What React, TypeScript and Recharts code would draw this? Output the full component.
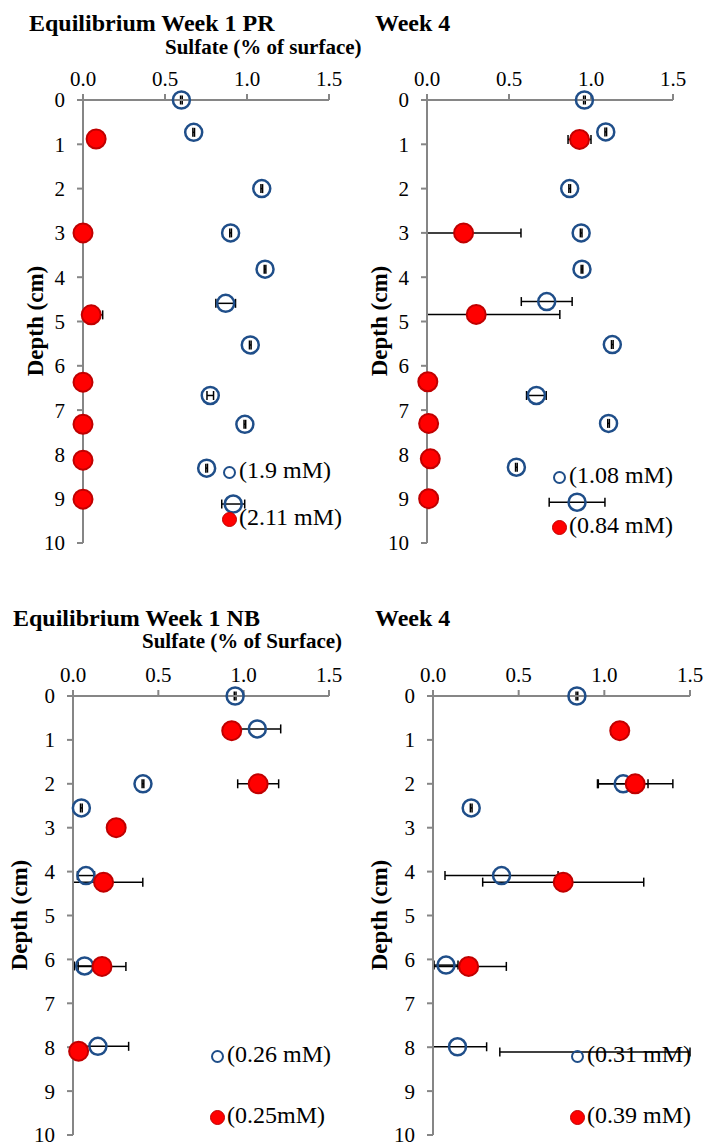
import { ScatterChart, Scatter, XAxis, YAxis, ErrorBar } from 'recharts';

const FONT = '"Liberation Serif", "Times New Roman", serif';
const NAVY = '#1F4E89';
const RED = '#FF0000';
const DARK_RED = '#C00000';
const AXIS = '#868686';

const depthTicks = [0, 1, 2, 3, 4, 5, 6, 7, 8, 9, 10];
const sulfateTicks = [0, 0.5, 1, 1.5];
const X_MAX = 1.5;

// Equilibrium Week 1 PR
const prW1OpenDepth = [0, 0.73, 2.0, 3.0, 3.82, 4.59, 5.53, 6.67, 7.32, 8.31, 9.12];
const prW1OpenValue = [0.6, 0.675, 1.09, 0.9, 1.11, 0.87, 1.02, 0.776, 0.987, 0.754, 0.916];
const prW1OpenErr = [0.005, 0.005, 0.005, 0.005, 0.005, 0.06, 0.005, 0.02, 0.005, 0.005, 0.07];
const prW1RedDepth = [0.88, 3.0, 4.85, 6.37, 7.32, 8.13, 9.01];
const prW1RedValue = [0.08, 0.0, 0.05, 0.0, 0.0, 0.0, 0.0];
const prW1RedErr = [0, 0, 0.07, 0, 0, 0, 0];

// PR Week 4
const prW4OpenDepth = [0, 0.72, 2.0, 3.0, 3.82, 4.55, 5.52, 6.67, 7.3, 8.29, 9.08];
const prW4OpenValue = [0.96, 1.09, 0.87, 0.94, 0.945, 0.73, 1.13, 0.667, 1.107, 0.545, 0.915];
const prW4OpenErr = [0.005, 0.005, 0.005, 0.005, 0.005, 0.155, 0.005, 0.06, 0.005, 0.005, 0.17];
const prW4RedDepth = [0.89, 3.0, 4.84, 6.36, 7.3, 8.1, 9.0];
const prW4RedValue = [0.93, 0.223, 0.3, 0.005, 0.01, 0.02, 0.01];
const prW4RedErr = [0.07, 0.35, 0.51, 0, 0, 0, 0];

// Equilibrium Week 1 NB
const nbW1OpenDepth = [0, 0.75, 2.0, 2.55, 4.09, 6.15, 7.98];
const nbW1OpenValue = [0.95, 1.08, 0.41, 0.049, 0.076, 0.068, 0.146];
const nbW1OpenErr = [0.005, 0.137, 0.005, 0.005, 0.05, 0.06, 0.18];
const nbW1RedDepth = [0.79, 2.0, 3.0, 4.24, 6.16, 8.09];
const nbW1RedValue = [0.93, 1.085, 0.253, 0.179, 0.17, 0.033];
const nbW1RedErr = [0, 0.12, 0, 0.23, 0.14, 0];

// NB Week 4 (last red point lies past 1.5, only its error bar shows)
const nbW4OpenDepth = [0, 2.0, 2.55, 4.09, 6.13, 7.99];
const nbW4OpenValue = [0.84, 1.11, 0.223, 0.4, 0.076, 0.143];
const nbW4OpenErr = [0.005, 0.145, 0.005, 0.33, 0.07, 0.17];
const nbW4RedDepth = [0.79, 2.0, 4.24, 6.16, 8.11];
const nbW4RedValue = [1.09, 1.18, 0.76, 0.208, 1.62];
const nbW4RedErr = [0, 0.22, 0.47, 0.22, 1.23];

// error bars are cut at the axis range, like the plot area does it
const toPoints = (depths: number[], values: number[], errs: number[]) =>
  depths.map((d, i) => ({
    depth: d,
    x: values[i],
    errX: [Math.min(errs[i], values[i]), Math.min(errs[i], X_MAX - values[i])],
  }));

const OpenDot = (p: any) => (
  <circle cx={p.cx} cy={p.cy} r={8.5} fill="none" stroke={NAVY} strokeWidth={2.5} />
);
const RedDot = (p: any) => (
  <circle cx={p.cx} cy={p.cy} r={9.5} fill={RED} stroke={DARK_RED} strokeWidth={2} />
);

const tickStyle = { fill: '#000', fontSize: 21, fontFamily: FONT };

function Panel({ left, top, width, height, margin, open, red, clipX = false }: any) {
  return (
    <div style={{ position: 'absolute', left, top }}>
      <ScatterChart width={width} height={height} margin={margin}>
        <XAxis
          type="number"
          dataKey="x"
          orientation="top"
          domain={[0, X_MAX]}
          ticks={sulfateTicks}
          interval={0}
          tickFormatter={(v: number) => v.toFixed(1)}
          allowDataOverflow={clipX}
          height={40}
          axisLine={{ stroke: AXIS, strokeWidth: 2 }}
          tickLine={{ stroke: AXIS, strokeWidth: 2 }}
          tickSize={6}
          tickMargin={8}
          tick={tickStyle}
        />
        <YAxis
          type="number"
          dataKey="depth"
          reversed
          domain={[0, 10]}
          ticks={depthTicks}
          interval={0}
          width={50}
          axisLine={{ stroke: AXIS, strokeWidth: 2 }}
          tickLine={{ stroke: AXIS, strokeWidth: 2 }}
          tickSize={6}
          tickMargin={12}
          tick={tickStyle}
        />
        <Scatter data={open} shape={OpenDot} isAnimationActive={false}>
          <ErrorBar dataKey="errX" direction="x" width={4.5} stroke="#000" strokeWidth={1.5} isAnimationActive={false} />
        </Scatter>
        <Scatter data={red} shape={RedDot} isAnimationActive={false}>
          <ErrorBar dataKey="errX" direction="x" width={4.5} stroke="#000" strokeWidth={1.5} isAnimationActive={false} />
        </Scatter>
      </ScatterChart>
    </div>
  );
}

function Label({ x, y, size, bold = false, children }: any) {
  return (
    <div
      style={{
        position: 'absolute',
        left: x,
        top: y,
        fontSize: size,
        fontWeight: bold ? 700 : 400,
        lineHeight: 1,
        fontFamily: FONT,
        whiteSpace: 'nowrap',
        color: '#000',
      }}
    >
      {children}
    </div>
  );
}

function DepthLabel({ cx, cy }: any) {
  return (
    <div
      style={{
        position: 'absolute',
        left: cx,
        top: cy,
        transform: 'translate(-50%, -50%) rotate(-90deg)',
        fontSize: 23,
        fontWeight: 700,
        fontFamily: FONT,
        lineHeight: 1,
        whiteSpace: 'nowrap',
      }}
    >
      Depth (cm)
    </div>
  );
}

function LegendItem({ x, y, filled = false, text }: any) {
  const size = filled ? 15 : 13;
  return (
    <>
      <div
        style={{
          position: 'absolute',
          left: x - size / 2,
          top: y - size / 2,
          width: size,
          height: size,
          boxSizing: 'border-box',
          borderRadius: '50%',
          background: filled ? RED : 'transparent',
          border: filled ? `1.5px solid ${DARK_RED}` : `2.3px solid ${NAVY}`,
        }}
      />
      <Label x={x + 10} y={y - 14} size={24}>
        {text}
      </Label>
    </>
  );
}

export default function App() {
  return (
    <div style={{ position: 'absolute', left: 0, top: 0, width: 707, height: 1146, background: '#fff' }}>
      <Panel
        left={0}
        top={0}
        width={355}
        height={570}
        margin={{ top: 60, right: 26, bottom: 27, left: 33 }}
        open={toPoints(prW1OpenDepth, prW1OpenValue, prW1OpenErr)}
        red={toPoints(prW1RedDepth, prW1RedValue, prW1RedErr)}
      />
      <Panel
        left={353}
        top={0}
        width={354}
        height={570}
        margin={{ top: 60, right: 34, bottom: 27, left: 24 }}
        open={toPoints(prW4OpenDepth, prW4OpenValue, prW4OpenErr)}
        red={toPoints(prW4RedDepth, prW4RedValue, prW4RedErr)}
      />
      <Panel
        left={0}
        top={600}
        width={355}
        height={546}
        margin={{ top: 56, right: 26, bottom: 11, left: 23 }}
        open={toPoints(nbW1OpenDepth, nbW1OpenValue, nbW1OpenErr)}
        red={toPoints(nbW1RedDepth, nbW1RedValue, nbW1RedErr)}
      />
      <Panel
        left={353}
        top={600}
        width={354}
        height={546}
        margin={{ top: 56, right: 17, bottom: 11, left: 30 }}
        open={toPoints(nbW4OpenDepth, nbW4OpenValue, nbW4OpenErr)}
        red={toPoints(nbW4RedDepth, nbW4RedValue, nbW4RedErr)}
        clipX
      />

      <Label x={29} y={11} size={24} bold>Equilibrium Week 1 PR</Label>
      <Label x={165} y={37} size={21} bold>Sulfate (% of surface)</Label>
      <Label x={375} y={11} size={24} bold>Week 4</Label>
      <Label x={13} y={606} size={24} bold>Equilibrium Week 1 NB</Label>
      <Label x={142} y={631} size={21} bold>Sulfate (% of Surface)</Label>
      <Label x={375} y={606} size={24} bold>Week 4</Label>

      <DepthLabel cx={35} cy={321} />
      <DepthLabel cx={379} cy={321} />
      <DepthLabel cx={19} cy={915} />
      <DepthLabel cx={379} cy={915} />

      <LegendItem x={229} y={472} text="(1.9 mM)" />
      <LegendItem x={229} y={519} filled text="(2.11 mM)" />
      <LegendItem x={559} y={477} text="(1.08 mM)" />
      <LegendItem x={559} y={527} filled text="(0.84 mM)" />
      <LegendItem x={217} y={1056} text="(0.26 mM)" />
      <LegendItem x={217} y={1117} filled text="(0.25mM)" />
      <LegendItem x={577} y={1056} text="(0.31 mM)" />
      <LegendItem x={577} y={1117} filled text="(0.39 mM)" />
    </div>
  );
}
